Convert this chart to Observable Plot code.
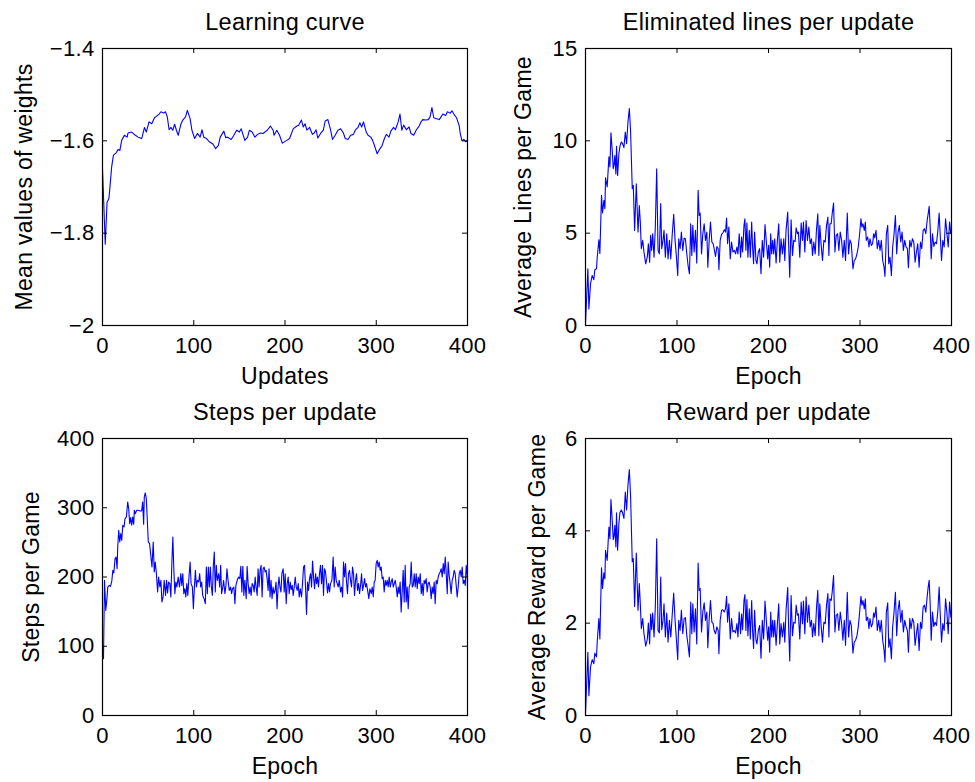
<!DOCTYPE html>
<html><head><meta charset="utf-8">
<script src="https://cdn.jsdelivr.net/npm/d3@7"></script>
<script src="https://cdn.jsdelivr.net/npm/@observablehq/plot@0.6"></script>
<style>
body{margin:0;background:#fff;}
#chart{position:relative;width:975px;height:782px;font-family:"Liberation Sans",Arial,Helvetica,sans-serif;}
#chart svg{position:absolute;}
</style></head><body><div id="chart"></div>
<script>
const epochTicks=[0,100,200,300,400];
const weightTicks=[-2,-1.8,-1.6,-1.4];
const linesTicks=[0,5,10,15];
const stepsTicks=[0,100,200,300,400];
const rewardTicks=[0,2,4,6];

// [update, mean weight]
const weights=[[0,-1.660],[3,-1.824],[5,-1.733],[7,-1.725],[8,-1.704],[10,-1.657],[12,-1.631],[15,-1.626],[17,-1.619],[19,-1.621],[21,-1.599],[24,-1.588],[27,-1.592],[28,-1.583],[32,-1.581],[36,-1.588],[39,-1.592],[43,-1.595],[46,-1.571],[48,-1.581],[51,-1.559],[54,-1.563],[57,-1.550],[59,-1.547],[62,-1.542],[64,-1.537],[67,-1.540],[69,-1.537],[71,-1.548],[73,-1.576],[75,-1.571],[77,-1.577],[79,-1.564],[81,-1.577],[83,-1.588],[86,-1.563],[88,-1.555],[91,-1.548],[93,-1.534],[96,-1.552],[98,-1.577],[101,-1.595],[104,-1.584],[107,-1.592],[109,-1.576],[111,-1.592],[114,-1.595],[117,-1.602],[121,-1.607],[124,-1.617],[127,-1.610],[129,-1.592],[133,-1.579],[135,-1.593],[137,-1.592],[141,-1.597],[144,-1.588],[147,-1.577],[150,-1.581],[152,-1.574],[156,-1.599],[159,-1.592],[161,-1.577],[164,-1.581],[167,-1.592],[170,-1.586],[173,-1.583],[176,-1.584],[178,-1.581],[181,-1.576],[184,-1.568],[187,-1.577],[188,-1.588],[191,-1.577],[194,-1.588],[197,-1.605],[202,-1.599],[205,-1.595],[209,-1.574],[213,-1.568],[215,-1.566],[218,-1.555],[220,-1.570],[222,-1.563],[224,-1.577],[227,-1.571],[230,-1.586],[232,-1.583],[234,-1.576],[236,-1.594],[239,-1.584],[242,-1.577],[244,-1.557],[247,-1.554],[250,-1.577],[252,-1.597],[255,-1.588],[258,-1.577],[261,-1.574],[264,-1.583],[266,-1.595],[269,-1.597],[272,-1.588],[275,-1.586],[277,-1.577],[280,-1.571],[282,-1.561],[284,-1.570],[286,-1.559],[289,-1.581],[291,-1.588],[294,-1.592],[296,-1.599],[298,-1.610],[301,-1.628],[304,-1.617],[306,-1.612],[309,-1.595],[311,-1.586],[314,-1.592],[316,-1.579],[319,-1.571],[321,-1.576],[324,-1.559],[326,-1.542],[328,-1.577],[330,-1.566],[333,-1.576],[336,-1.570],[338,-1.584],[341,-1.588],[344,-1.576],[347,-1.568],[349,-1.559],[351,-1.554],[354,-1.555],[357,-1.554],[359,-1.548],[361,-1.528],[363,-1.550],[366,-1.552],[369,-1.554],[371,-1.548],[373,-1.542],[376,-1.545],[378,-1.537],[381,-1.540],[383,-1.535],[386,-1.545],[388,-1.550],[391,-1.568],[392,-1.584],[394,-1.600],[396,-1.597],[398,-1.602],[400,-1.599]];

// [epoch, average lines per game]
const lines=[[0,0.09],[2.6,3.07],[3.7,0.90],[5.5,2.26],[7.3,2.71],[9.1,2.48],[10.2,3.02],[12,3.07],[12.8,3.67],[14.6,4.64],[15.7,3.90],[17.5,7.05],[18.6,6.09],[20.1,6.78],[21.2,6.32],[21.9,8.00],[23.7,7.50],[25.6,9.13],[26.7,8.58],[27.8,10.43],[29.2,9.49],[30.3,8.49],[31.1,8.67],[32.1,9.20],[33.2,8.20],[33.9,9.70],[35.1,8.13],[36.5,9.30],[37.6,9.70],[39.1,9.94],[40.5,9.85],[42,9.63],[43.5,10.48],[44.9,9.85],[46.4,11.02],[47.9,11.75],[49.3,10.48],[51.1,7.41],[52.2,7.59],[53.7,5.15],[55.5,7.68],[57.4,5.06],[58.8,6.50],[59.9,5.60],[61,4.16],[62.5,4.61],[63.9,3.98],[65.8,3.34],[67.6,3.74],[68.7,4.43],[70.1,3.43],[71.2,4.88],[72.3,4.07],[73.4,4.97],[74.9,3.70],[76.3,5.33],[77.8,8.49],[79.3,4.07],[80.7,3.88],[82.2,6.60],[83.3,4.16],[84.7,4.61],[85.8,5.15],[87.3,3.70],[88.8,4.97],[90.2,3.61],[91.7,4.61],[93.2,3.61],[94.6,4.79],[96.4,6.02],[97.9,4.61],[99.4,3.70],[100.8,2.71],[101.9,4.70],[103.4,4.16],[104.8,5.06],[106.3,4.07],[107.8,4.73],[109.2,4.70],[110.7,3.88],[112.1,3.25],[113.6,2.80],[115,5.51],[116.2,3.79],[117.3,5.42],[118.7,3.98],[120.2,5.15],[121.6,3.38],[123.1,7.32],[124.2,5.96],[125.3,6.09],[126.8,3.88],[128.2,4.97],[129.7,5.51],[131.1,4.61],[132.6,5.06],[133.7,3.16],[135.2,4.64],[136.6,5.60],[138.1,4.52],[139.5,4.43],[140.6,4.16],[142.1,3.74],[143.6,4.28],[145,4.16],[145.8,3.02],[147.2,4.61],[148.7,4.93],[150.1,5.00],[151.6,5.19],[153,5.06],[154.2,5.82],[155.3,4.43],[156.7,5.33],[158.2,3.61],[159.6,4.52],[161.1,3.98],[162.6,4.07],[164,3.88],[165.5,4.25],[166.6,3.88],[168,4.97],[169.5,3.70],[170.6,4.79],[171.7,3.98],[173.2,5.42],[174.2,5.78],[175.3,4.07],[176.4,5.55],[177.5,3.70],[179,5.15],[180.1,3.70],[181.6,5.60],[182.6,4.25],[183.7,3.34],[184.8,5.06],[186.3,3.52],[187.4,3.34],[188.9,3.98],[190.3,4.16],[191.8,2.80],[193.2,4.61],[194.7,3.70],[196.2,5.46],[199.1,3.61],[200.2,4.34],[201.3,3.16],[202.4,4.97],[203.5,3.88],[204.6,4.61],[205.7,3.88],[206.8,4.70],[208.3,3.38],[209.7,4.61],[211.2,5.51],[212.3,3.43],[213.7,4.70],[215.2,3.88],[216.7,4.70],[217.8,3.52],[219.2,5.15],[221.0,6.14],[222.1,4.25],[223.2,2.62],[224.7,5.73],[226.2,3.79],[227.6,4.61],[229.1,4.55],[230.2,5.29],[231.6,4.97],[232.7,5.06],[234.2,3.70],[235.7,5.55],[237.1,4.61],[238.2,5.60],[239.7,3.98],[241.1,5.69],[242.6,4.61],[244.1,5.33],[245.5,4.43],[247,4.70],[248.1,3.79],[249.5,4.52],[251,3.88],[252.5,5.24],[253.9,6.05],[255,3.79],[256.1,5.42],[257.6,4.34],[259,3.52],[260.5,4.61],[262,4.52],[263.4,5.42],[264.9,5.87],[266,3.79],[267.1,5.51],[268.5,5.51],[269.6,6.05],[271.1,6.63],[272.6,3.98],[274,4.88],[275.5,4.97],[276.9,4.07],[278.4,5.06],[279.9,4.61],[281.3,3.70],[282.8,4.61],[284.2,3.52],[286.1,6.09],[287.5,3.88],[289,4.64],[290.5,4.43],[292.3,3.07],[293.7,3.52],[295.2,3.61],[296.7,3.88],[298.1,4.25],[299.6,4.97],[301,5.78],[302.1,5.33],[303.2,5.51],[304.7,5.15],[305.8,5.60],[306.9,4.61],[308.4,4.79],[309.8,4.25],[310.9,4.70],[312.4,4.34],[313.8,4.43],[314.9,4.97],[316,4.75],[317.5,5.15],[318.9,4.16],[320.4,4.61],[321.9,4.07],[323.3,4.61],[324.8,3.52],[326.3,3.16],[327.3,2.66],[328.8,4.97],[330.3,5.42],[331.4,3.34],[332.8,3.70],[334.3,2.71],[335.7,4.25],[337.2,4.97],[338.7,5.96],[340.1,3.88],[341.6,5.06],[343,5.42],[344.5,4.52],[346,5.06],[347.4,4.07],[348.9,4.61],[350.4,4.25],[351.8,4.16],[352.9,3.13],[354.4,4.61],[355.8,4.25],[357.3,4.70],[358.8,4.52],[360.2,3.43],[361.7,3.98],[363.1,4.43],[364.6,3.16],[366.1,4.52],[367.5,4.16],[369,5.15],[370.4,5.24],[371.9,4.97],[373.4,5.69],[374.5,6.05],[375.6,6.45],[376.7,5.33],[377.8,3.61],[379.2,4.97],[380.7,4.28],[382.1,4.52],[383.6,4.43],[385.1,5.15],[386.5,6.09],[387.6,4.97],[389.1,3.52],[390.5,4.61],[392,4.25],[393.5,5.78],[394.9,5.06],[396.4,4.25],[397.9,5.60],[399.3,4.97],[400,5.15]];

// [epoch, steps per game]
const steps=[[0,98.8],[1.1,82],[2.2,195.2],[3.6,151.8],[4.7,166.3],[5.8,185.5],[7.3,187.9],[8.7,186.5],[10.2,194.2],[11.3,209.6],[12.4,205.8],[13.8,226.5],[14.9,228.9],[16,212.0],[16.7,243.4],[17.8,267.5],[18.9,250.6],[20,262.6],[21.1,253.0],[22.2,274.7],[23.6,272.3],[24.7,284.3],[26.2,286.7],[27.6,308.4],[28.7,298.8],[29.8,277.1],[30.9,285.8],[32,274.7],[33.1,286.7],[34.2,276.1],[34.9,296.4],[36,291.5],[37.5,296.4],[39.3,296.4],[41.1,295.4],[42.9,295.4],[44,308.4],[45.1,276.1],[45.8,315.6],[46.9,321.4],[48,313.2],[49.1,281.9],[50.2,250.6],[51.6,248.2],[53.1,228.9],[54.2,214.4],[55.6,250.6],[56.7,207.2],[57.8,221.7],[58.9,207.2],[60.4,178.3],[61.5,200],[62.9,185.5],[64,195.2],[65.1,163.8],[66.5,172.0],[67.6,195.2],[69.1,173.5],[70.2,195.2],[71.3,176.9],[72.4,192.8],[73.8,190.4],[74.9,171.1],[76,219.3],[77.1,257.8],[78.2,209.6],[79.3,175.9],[80.4,192.8],[81.5,185.5],[82.9,200],[84.4,185.5],[85.8,204.8],[86.9,187.9],[88,204.8],[89.1,175.9],[90.2,183.1],[91.3,171.1],[92.4,190.4],[93.5,173.5],[94.5,195.2],[96,221.7],[97.1,190.4],[98.5,185.5],[99.6,154.2],[100.7,185.5],[101.8,209.6],[102.9,185.5],[104,195.2],[105.4,192.8],[106.5,204.8],[107.6,185.5],[108.7,192.8],[109.8,173.5],[111.3,168.7],[112.7,161.4],[113.8,214.4],[114.9,175.9],[116,214.4],[117.1,185.5],[118.2,214.4],[119.3,185.5],[120.4,173.5],[121.4,214.4],[122.5,236.1],[123.6,178.3],[124.7,216.9],[125.8,195.2],[127.3,204.8],[128.4,185.5],[129.5,216.9],[130.5,175.9],[131.6,183.1],[132.7,195.2],[134.2,175.9],[135.3,187.9],[136.4,212.0],[137.4,197.6],[138.9,180.7],[140.4,185.5],[141.5,175.9],[142.5,183.1],[144,185.5],[145.1,161.4],[146.2,187.9],[147.6,195.2],[149.1,200],[150.5,197.6],[151.6,215.4],[152.7,178.3],[153.8,215.4],[154.9,173.5],[156,195.2],[157.5,168.7],[158.5,215.4],[159.6,190.4],[160.7,175.9],[161.8,185.5],[162.9,173.5],[164,190.4],[165.1,187.9],[166.2,178.3],[167.3,200],[168.3,185.5],[169.5,173.5],[170.5,212.0],[171.6,185.5],[172.7,209.6],[173.8,216.9],[174.9,171.1],[176,212.0],[177.1,214.4],[178.2,207.2],[179.3,209.6],[180.4,197.6],[181.5,180.7],[182.5,212.0],[183.6,171.1],[184.7,195.2],[185.8,168.7],[186.9,185.5],[188,175.9],[189.1,180.7],[190.2,192.8],[191.3,154.2],[192.3,183.1],[193.4,200],[194.5,185.5],[195.6,178.3],[196.6,204.8],[198,212.0],[199.1,178.3],[200.2,204.8],[201.3,161.4],[202.4,190.4],[203.5,200],[204.6,175.9],[205.7,192.8],[206.8,181.7],[207.9,187.9],[209,173.5],[210.1,185.5],[211.2,200],[212.3,185.5],[213.4,180.7],[214.5,190.4],[215.6,171.1],[216.7,183.1],[218.1,171.1],[219.2,190.4],[220.3,214.4],[221.4,216.9],[222.5,185.5],[223.6,146.0],[224.7,192.8],[225.8,180.7],[226.9,197.6],[228,204.8],[229.1,185.5],[230.2,223.1],[231.3,200],[232.4,183.1],[233.5,204.8],[234.6,190.4],[235.6,200],[236.7,185.5],[237.8,204.8],[238.9,216.9],[240,190.4],[241.1,216.9],[242.2,173.5],[243.3,212.0],[244.4,207.2],[245.5,192.8],[246.6,176.9],[247.7,190.4],[248.8,178.3],[249.9,190.4],[251.4,195.2],[252.8,228.9],[253.9,185.5],[255,214.4],[256.1,195.2],[257.2,190.4],[258.3,185.5],[259.4,195.2],[260.9,178.3],[262,185.5],[263.1,171.1],[264.1,221.7],[265.2,200],[266.3,219.3],[267.4,192.8],[268.5,175.9],[269.6,204.8],[270.7,209.6],[271.8,195.2],[272.9,185.5],[274,214.4],[275.1,204.8],[276.2,173.5],[277.3,195.2],[278.4,204.8],[279.5,180.7],[280.6,190.4],[281.7,175.9],[282.8,187.9],[283.9,204.8],[285,180.7],[286.1,187.9],[287.2,197.6],[288.3,185.5],[289.3,190.4],[290.8,178.3],[291.9,168.7],[293,183.1],[294.5,175.9],[295.6,185.5],[296.7,171.1],[297.8,192.8],[298.8,195.2],[299.9,219.3],[301,224.1],[302.1,214.4],[303.2,221.7],[304.3,209.6],[305.4,214.4],[306.5,197.6],[307.6,200],[308.7,178.3],[309.8,195.2],[310.9,187.9],[312,195.2],[313.1,185.5],[314.2,200],[315.3,185.5],[316.4,192.8],[317.5,197.6],[318.6,185.5],[319.7,190.4],[320.8,195.2],[321.9,185.5],[323,171.1],[324.1,185.5],[325.1,175.9],[326.2,192.8],[327.3,149.4],[328.4,178.3],[329.5,209.6],[330.6,163.8],[331.7,216.9],[332.8,163.8],[333.9,185.5],[335,154.2],[336.1,185.5],[337.2,190.4],[338.3,221.7],[339.4,185.5],[340.5,187.9],[341.6,204.8],[342.7,185.5],[343.8,204.8],[344.9,183.1],[346,200],[347.1,190.4],[348.2,204.8],[349.3,175.9],[350.4,190.4],[351.4,173.5],[352.5,195.2],[353.6,190.4],[354.7,197.6],[355.8,178.3],[356.9,190.4],[358,192.8],[359.1,185.5],[360.2,168.7],[361.3,185.5],[362.4,175.9],[363.5,192.8],[364.6,161.4],[365.7,195.2],[366.8,190.4],[367.9,200],[369,204.8],[370.1,207.2],[371.2,212.0],[372.3,200],[373.4,219.3],[374.5,204.8],[375.6,228.9],[376.7,204.8],[377.8,175.9],[378.8,221.7],[379.9,202.4],[381,190.4],[382.1,175.9],[383.2,195.2],[384.3,200],[385.4,209.6],[386.5,204.8],[387.6,187.9],[388.7,171.1],[389.8,185.5],[390.9,204.8],[392,209.6],[393.1,200],[394.2,214.4],[395.3,190.4],[396.4,195.2],[397.5,187.9],[398.6,216.9],[399.7,200],[400,185]];

// [epoch, average reward per game]
const reward=[[0,0.04],[2.6,1.37],[3.7,0.43],[5.5,1.05],[7.3,1.21],[9.1,1.12],[10.2,1.35],[12,1.27],[12.8,1.59],[14.6,2.10],[15.7,1.66],[17.5,3.20],[18.6,2.75],[20.1,3.09],[21.2,2.96],[21.9,3.58],[23.7,3.36],[25.6,4.08],[26.7,3.83],[27.8,4.68],[29.2,4.23],[30.3,3.81],[31.1,3.87],[32.1,4.12],[33.2,3.65],[33.9,4.39],[35.1,3.58],[36.5,4.16],[37.6,4.39],[39.1,4.45],[40.5,4.39],[42,4.27],[43.5,4.84],[44.9,4.45],[46.4,4.99],[47.9,5.33],[49.3,4.73],[51.1,3.33],[52.2,3.40],[53.7,2.36],[55.5,3.52],[57.4,2.28],[58.8,2.86],[59.9,2.42],[61,1.88],[62.5,2.10],[63.9,1.77],[65.8,1.50],[67.6,1.66],[68.7,2.00],[70.1,1.55],[71.2,2.20],[72.3,1.86],[73.4,2.22],[74.9,1.70],[76.3,2.35],[77.8,3.83],[79.3,1.84],[80.7,1.79],[82.2,3.00],[83.3,1.86],[84.7,2.06],[85.8,2.42],[87.3,1.70],[88.8,2.22],[90.2,1.59],[91.7,2.06],[93.2,1.70],[94.6,2.13],[96.4,2.65],[97.9,2.06],[99.4,1.63],[100.8,1.21],[101.9,2.06],[103.4,1.84],[104.8,2.28],[106.3,1.77],[107.8,2.10],[109.2,2.12],[110.7,1.73],[112.1,1.52],[113.6,1.27],[115,2.46],[116.2,1.77],[117.3,2.42],[118.7,1.81],[120.2,2.31],[121.6,1.55],[123.1,3.30],[124.2,2.71],[125.3,2.75],[126.8,1.81],[128.2,2.24],[129.7,2.44],[131.1,2.06],[132.6,2.24],[133.7,1.47],[135.2,2.10],[136.6,2.49],[138.1,2.02],[139.5,1.99],[140.6,1.84],[142.1,1.77],[143.6,1.92],[145,1.84],[145.8,1.34],[147.2,2.06],[148.7,2.28],[150.1,2.29],[151.6,2.24],[153,2.31],[154.2,2.58],[155.3,2.02],[156.7,2.42],[158.2,1.66],[159.6,2.10],[161.1,1.81],[162.6,1.84],[164,1.79],[165.5,1.99],[166.6,1.70],[168,2.24],[169.5,1.77],[170.6,2.20],[171.7,1.86],[173.2,2.49],[174.2,2.62],[175.3,1.84],[176.4,2.51],[177.5,1.73],[179,2.31],[180.1,1.66],[181.6,2.49],[182.6,1.84],[183.7,1.45],[184.8,2.28],[186.3,1.63],[187.4,1.55],[188.9,1.84],[190.3,1.95],[191.8,1.24],[193.2,2.06],[194.7,1.66],[196.2,2.48],[199.1,1.63],[200.2,1.92],[201.3,1.37],[202.4,2.24],[203.5,1.70],[204.6,2.06],[205.7,1.70],[206.8,2.06],[208.3,1.52],[209.7,1.99],[211.2,2.42],[212.3,1.55],[213.7,1.99],[215.2,1.70],[216.7,2.02],[217.8,1.59],[219.2,2.28],[221,2.77],[222.1,1.84],[223.2,1.18],[224.7,2.60],[226.2,1.73],[227.6,2.02],[229.1,2.00],[230.2,2.39],[231.6,2.17],[232.7,2.20],[234.2,1.66],[235.7,2.46],[237.1,1.99],[238.2,2.48],[239.7,1.77],[241.1,2.57],[242.6,2.02],[244.1,2.39],[245.5,1.92],[247,2.06],[248.1,1.70],[249.5,1.99],[251,1.73],[252.5,2.35],[253.9,2.71],[255,1.73],[256.1,2.42],[257.6,1.92],[259,1.59],[260.5,2.02],[262,1.99],[263.4,2.39],[264.9,2.64],[266,1.70],[267.1,2.53],[268.5,2.49],[269.6,2.67],[271.1,3.03],[272.6,1.81],[274,2.17],[275.5,2.20],[276.9,1.84],[278.4,2.24],[279.9,1.99],[281.3,1.63],[282.8,2.06],[284.2,1.52],[286.1,2.67],[287.5,1.70],[289,2.06],[290.5,1.95],[292.3,1.35],[293.7,1.59],[295.2,1.63],[296.7,1.73],[298.1,1.92],[299.6,2.24],[301,2.58],[302.1,2.39],[303.2,2.49],[304.7,2.31],[305.8,2.53],[306.9,2.06],[308.4,2.13],[309.8,1.88],[310.9,2.10],[312.4,1.92],[313.8,1.99],[314.9,2.22],[316,2.13],[317.5,2.35],[318.9,1.84],[320.4,2.06],[321.9,1.81],[323.3,2.06],[324.8,1.63],[326.3,1.41],[327.3,1.16],[328.8,2.24],[330.3,2.44],[331.4,1.48],[332.8,1.66],[334.3,1.23],[335.7,1.92],[337.2,2.24],[338.7,2.67],[340.1,1.73],[341.6,2.28],[343,2.49],[344.5,2.02],[346,2.28],[347.4,1.81],[348.9,2.06],[350.4,1.92],[351.8,1.84],[352.9,1.37],[354.4,2.10],[355.8,1.88],[357.3,2.10],[358.8,2.02],[360.2,1.52],[361.7,1.77],[363.1,1.99],[364.6,1.41],[366.1,2.02],[367.5,1.88],[369,2.35],[370.4,2.39],[371.9,2.24],[373.4,2.57],[374.5,2.78],[375.6,2.93],[376.7,2.42],[377.8,1.63],[379.2,2.24],[380.7,1.93],[382.1,2.02],[383.6,1.95],[385.1,2.28],[386.5,2.78],[387.6,2.24],[389.1,1.59],[390.5,1.99],[392,1.84],[393.5,2.53],[394.9,2.24],[396.4,1.77],[397.9,2.46],[399.3,2.13],[400,2.24]];

const panels=[
  {data:weights,title:"Learning curve",xlabel:"Updates",ylabel:"Mean values of weights",domain:[-2,-1.4],ticks:weightTicks,left:0,top:0,width:487,height:391,ml:102,mr:20,mt:48,mb:66,ylDx:-78},
  {data:lines,title:"Eliminated lines per update",xlabel:"Epoch",ylabel:"Average Lines per Game",domain:[0,15],ticks:linesTicks,left:487,top:0,width:488,height:391,ml:98,mr:24,mt:48,mb:66,ylDx:-62},
  {data:steps,title:"Steps per update",xlabel:"Epoch",ylabel:"Steps per Game",domain:[0,400],ticks:stepsTicks,left:0,top:391,width:487,height:391,ml:102,mr:20,mt:47,mb:67,ylDx:-71},
  {data:reward,title:"Reward per update",xlabel:"Epoch",ylabel:"Average Reward per Game",domain:[0,6],ticks:rewardTicks,left:487,top:391,width:488,height:391,ml:98,mr:24,mt:47,mb:67,ylDx:-48}
];

const fmt=d=>d<0?"\u2212"+Math.abs(d):String(d);
const font='"Liberation Sans",Arial,Helvetica,sans-serif';

for(const p of panels){
  const ih=p.height-p.mt-p.mb, iw=p.width-p.ml-p.mr, t=5;
  const svg=Plot.plot({
    width:p.width,height:p.height,
    marginLeft:p.ml,marginRight:p.mr,marginTop:p.mt,marginBottom:p.mb,
    style:{fontFamily:font,fontSize:"22px",color:"black",background:"white",overflow:"visible",letterSpacing:"0.3px"},
    x:{domain:[0,400]},
    y:{domain:p.domain},
    marks:[
      Plot.line(p.data,{x:d=>d[0],y:d=>d[1],stroke:"#0000ff",strokeWidth:1.1}),
      Plot.frame({stroke:"black",strokeWidth:1.2}),
      Plot.tickX(epochTicks,{x:d=>d,insetTop:ih-t,stroke:"black"}),
      Plot.tickX(epochTicks,{x:d=>d,insetBottom:ih-t,stroke:"black"}),
      Plot.tickY(p.ticks,{y:d=>d,insetRight:iw-t,stroke:"black"}),
      Plot.tickY(p.ticks,{y:d=>d,insetLeft:iw-t,stroke:"black"}),
      Plot.axisX(epochTicks,{tickSize:0,tickPadding:12,label:null,tickFormat:fmt,fontSize:22}),
      Plot.axisY(p.ticks,{tickSize:0,tickPadding:8,label:null,tickFormat:fmt,fontSize:22}),
      Plot.text([p.title],{frameAnchor:"top",textAnchor:"middle",lineAnchor:"middle",dy:-26,text:d=>d,fontSize:23.5}),
      Plot.text([p.xlabel],{frameAnchor:"bottom",textAnchor:"middle",lineAnchor:"middle",dy:51,text:d=>d,fontSize:23}),
      Plot.text([p.ylabel],{frameAnchor:"left",textAnchor:"middle",lineAnchor:"middle",dx:p.ylDx,rotate:-90,text:d=>d,fontSize:23})
    ]
  });
  svg.style.left=p.left+"px";
  svg.style.top=p.top+"px";
  document.getElementById("chart").appendChild(svg);
}
</script>
</body></html>
